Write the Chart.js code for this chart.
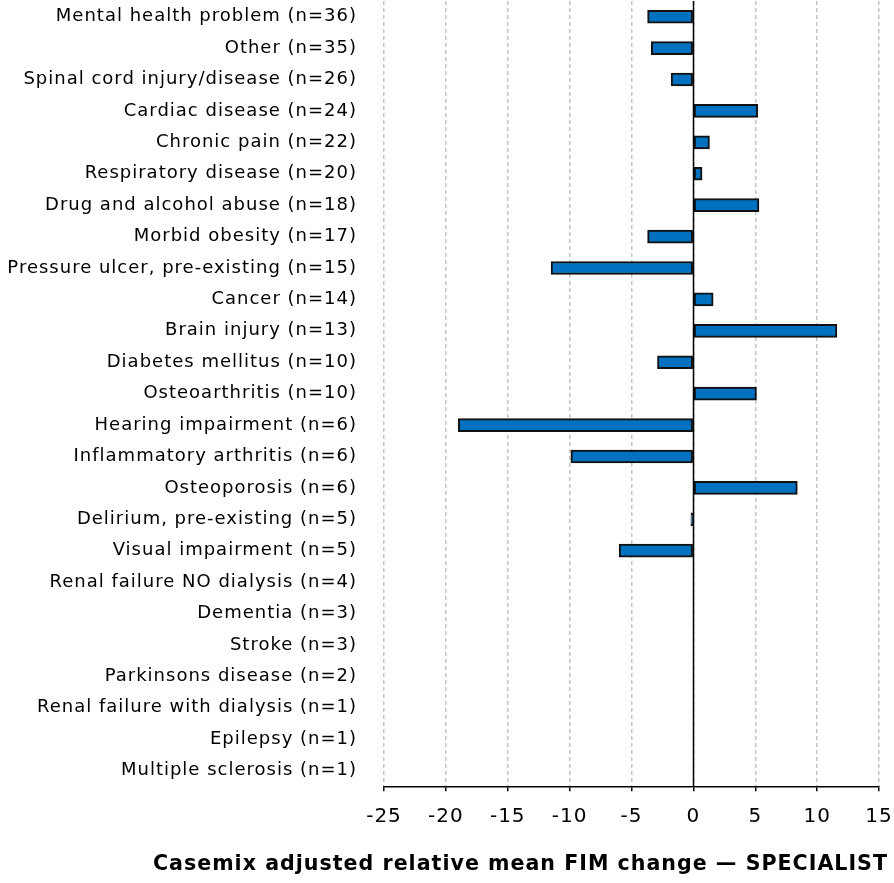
<!DOCTYPE html>
<html>
<head>
<meta charset="utf-8">
<script src="https://cdn.jsdelivr.net/npm/chart.js@4"></script>
<style>
  html, body { margin: 0; padding: 0; background: #fff; }
  #wrap { width: 894px; height: 883px; }
</style>
</head>
<body>
<div id="wrap"><canvas id="fim"></canvas></div>
<script>
// categories, top to bottom
const categories = [
    'Mental health problem (n=36)',
    'Other (n=35)',
    'Spinal cord injury/disease (n=26)',
    'Cardiac disease (n=24)',
    'Chronic pain (n=22)',
    'Respiratory disease (n=20)',
    'Drug and alcohol abuse (n=18)',
    'Morbid obesity (n=17)',
    'Pressure ulcer, pre-existing (n=15)',
    'Cancer (n=14)',
    'Brain injury (n=13)',
    'Diabetes mellitus (n=10)',
    'Osteoarthritis (n=10)',
    'Hearing impairment (n=6)',
    'Inflammatory arthritis (n=6)',
    'Osteoporosis (n=6)',
    'Delirium, pre-existing (n=5)',
    'Visual impairment (n=5)',
    'Renal failure NO dialysis (n=4)',
    'Dementia (n=3)',
    'Stroke (n=3)',
    'Parkinsons disease (n=2)',
    'Renal failure with dialysis (n=1)',
    'Epilepsy (n=1)',
    'Multiple sclerosis (n=1)'
];

// casemix adjusted relative mean FIM change
const fimChange = [
    -3.7, -3.4, -1.8, 5.2, 1.3, 0.7, 5.3, -3.7, -11.5, 1.6,
    11.6, -2.9, 5.1, -19.0, -9.9, 8.4, -0.2, -6.0,
    null, null, null, null, null, null, null
];

const xTicks = [-25, -20, -15, -10, -5, 0, 5, 10, 15];

const fontFamily = "'DejaVu Sans', sans-serif";

// wider text spacing like the original
const spacing = {
    id: 'spacing',
    beforeDraw(chart) {
        chart.ctx.letterSpacing = '1px';
    }
};

// solid black line at zero, over the bar edges
const zeroLine = {
    id: 'zeroLine',
    afterDatasetsDraw(chart) {
        const x = Math.round(chart.scales.x.getPixelForValue(0)) + 0.5;
        const area = chart.chartArea;
        const ctx = chart.ctx;
        ctx.save();
        ctx.strokeStyle = '#000';
        ctx.lineWidth = 1.5;
        ctx.beginPath();
        ctx.moveTo(x, area.top);
        ctx.lineTo(x, area.bottom);
        ctx.stroke();
        ctx.restore();
    }
};

new Chart(document.getElementById('fim').getContext('2d'), {
    type: 'bar',
    data: {
        labels: categories,
        datasets: [{
            data: fimChange,
            backgroundColor: '#0070C0',
            borderColor: '#111',
            borderWidth: 2,
            borderSkipped: false,
            barThickness: 13
        }]
    },
    options: {
        indexAxis: 'y',
        responsive: true,
        maintainAspectRatio: false,
        animation: false,
        layout: { padding: { top: 1, right: 6, bottom: 6, left: 0 } },
        scales: {
            x: {
                min: xTicks[0],
                max: xTicks[xTicks.length - 1],
                afterBuildTicks(scale) {
                    scale.ticks = xTicks.map(v => ({ value: v }));
                },
                afterFit(scale) {
                    scale.height = 56;
                    scale.paddingLeft = 0;
                    scale.paddingRight = 15;
                },
                grid: {
                    color: '#c4c4c4',
                    lineWidth: 1.5,
                    tickLength: 5,
                    tickColor: '#000',
                    tickWidth: 1.5,
                    tickBorderDash: []
                },
                border: { display: true, color: '#000', width: 1.5, dash: [4, 3] },
                ticks: {
                    color: '#000',
                    padding: 14,
                    font: { family: fontFamily, size: 20 }
                }
            },
            y: {
                afterFit(scale) {
                    scale.width = 384;
                    scale.paddingTop = 0;
                    scale.paddingBottom = 0;
                },
                grid: { display: false },
                border: { display: false },
                ticks: {
                    color: '#000',
                    padding: 19,
                    autoSkip: false,
                    font: { family: fontFamily, size: 18 }
                }
            }
        },
        plugins: {
            legend: { display: false },
            tooltip: { enabled: false },
            title: {
                display: true,
                position: 'bottom',
                align: 'end',
                text: 'Casemix adjusted relative mean FIM change \u2014 SPECIALIST',
                color: '#000',
                padding: { top: 10, bottom: 0 },
                font: { family: fontFamily, size: 20.6, weight: 'bold' }
            }
        }
    },
    plugins: [spacing, zeroLine]
});
</script>
</body>
</html>
